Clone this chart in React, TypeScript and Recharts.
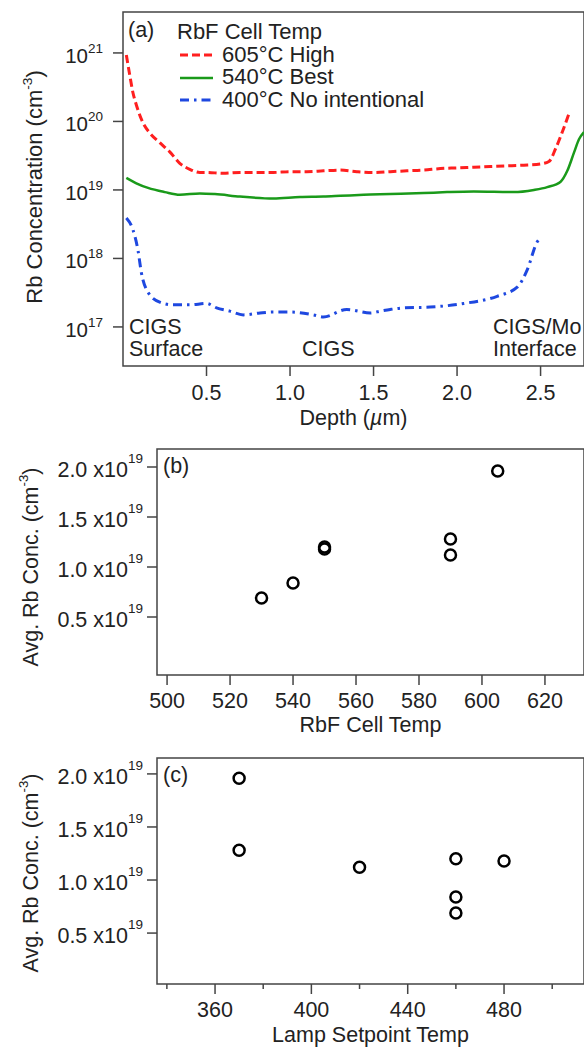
import React from 'react';
import { LineChart, Line, XAxis, YAxis, ScatterChart, Scatter, ReferenceArea, Legend } from 'recharts';

const FONT = "'Liberation Sans', Arial, Helvetica, sans-serif";
const INK = '#222';
const AXIS = '#444';

// (a) Rb depth profiles, depth in um, concentration in cm^-3
const depthHigh = [0.02, 0.04, 0.06, 0.08, 0.12, 0.16, 0.22, 0.28, 0.34, 0.4, 0.46, 0.5, 0.6, 0.7, 0.8, 0.9, 1.0, 1.1, 1.2, 1.3, 1.4, 1.5, 1.6, 1.7, 1.8, 1.9, 2.0, 2.1, 2.2, 2.3, 2.4, 2.5, 2.55, 2.59, 2.63, 2.67];
const rbHigh = [9.3e20, 4.8e20, 2.6e20, 1.74e20, 9.5e19, 6.8e19, 4.9e19, 3.6e19, 2.45e19, 2.0e19, 1.8e19, 1.8e19, 1.75e19, 1.8e19, 1.8e19, 1.8e19, 1.85e19, 1.85e19, 1.9e19, 1.95e19, 1.85e19, 1.8e19, 1.85e19, 1.9e19, 1.95e19, 2.05e19, 2.1e19, 2.15e19, 2.2e19, 2.25e19, 2.3e19, 2.4e19, 2.6e19, 4.0e19, 7.0e19, 1.3e20];

const depthBest = [0.02, 0.08, 0.15, 0.25, 0.34, 0.46, 0.55, 0.7, 0.9, 1.06, 1.2, 1.3, 1.44, 1.6, 1.8, 1.94, 2.1, 2.34, 2.46, 2.54, 2.62, 2.66, 2.7, 2.73, 2.76];
const rbBest = [1.5e19, 1.25e19, 1.07e19, 9.3e18, 8.5e18, 8.9e18, 8.7e18, 8.0e18, 7.5e18, 7.9e18, 8.0e18, 8.2e18, 8.5e18, 8.7e18, 9.0e18, 9.3e18, 9.5e18, 9.3e18, 1.0e19, 1.1e19, 1.32e19, 1.9e19, 3.5e19, 5.5e19, 7.0e19];

const depthNone = [0.02, 0.06, 0.09, 0.11, 0.15, 0.22, 0.3, 0.4, 0.5, 0.56, 0.64, 0.72, 0.82, 0.9, 1.0, 1.14, 1.2, 1.34, 1.48, 1.54, 1.6, 1.68, 1.84, 2.04, 2.24, 2.36, 2.42, 2.48, 2.5];
const rbNone = [3.9e18, 2.6e18, 1.3e18, 6.2e17, 3.2e17, 2.3e17, 2.1e17, 2.1e17, 2.2e17, 1.9e17, 1.7e17, 1.5e17, 1.6e17, 1.65e17, 1.65e17, 1.5e17, 1.4e17, 1.8e17, 1.6e17, 1.7e17, 1.8e17, 1.9e17, 1.95e17, 2.2e17, 2.8e17, 3.8e17, 6.8e17, 1.75e18, 2.0e18];

const profileNames = ['605°C High', '540°C Best', '400°C No intentional'];
const depthTicks = [0.5, 1.0, 1.5, 2.0, 2.5];
const concTicks = [1e17, 1e18, 1e19, 1e20, 1e21];

// (b), (c) average Rb concentration, units of 1e19 cm^-3
const avgConc = [1.96, 1.28, 1.12, 1.2, 1.18, 0.84, 0.69];
const rbfTemp = [605, 590, 590, 550, 550, 540, 530];
const lampTemp = [370, 370, 420, 460, 480, 460, 460];
const avgTicks = [0.5, 1.0, 1.5, 2.0];
const rbfTicks = [500, 520, 540, 560, 580, 600, 620];
const lampTicks = [340, 360, 380, 400, 420, 440, 460, 480, 500];
const lampLabelled = [360, 400, 440, 480];

const TICK_FS = 21.5;
const TEXT_FS = 21.5;

const styles = [
  { color: '#ff1f1f', width: 3, dash: '8 4' },
  { color: '#1a9a1a', width: 2.5, dash: undefined as string | undefined },
  { color: '#1e48e0', width: 3, dash: '9 5 2.5 5' },
];

const profiles = [
  { depth: depthHigh, conc: rbHigh },
  { depth: depthBest, conc: rbBest },
  { depth: depthNone, conc: rbNone },
].map((s, k) => ({
  name: profileNames[k],
  rows: s.depth.map((d, i) => ({ depth: d, conc: s.conc[i] })),
  ...styles[k],
}));

const scatterB = rbfTemp.map((t, i) => ({ t, c: avgConc[i] }));
const scatterC = lampTemp.map((t, i) => ({ t, c: avgConc[i] }));

const domA: [number, number] = [0, 2.76];
const domAy: [number, number] = [2.69e16, 3.96e21];
const domB: [number, number] = [496.8, 632.4];
const domBy: [number, number] = [-0.08, 2.18];
const domC: [number, number] = [335.9, 513.2];
const domCy: [number, number] = [0.02, 2.15];

function LogTick({ x, y, payload }: any) {
  const exp = Math.round(Math.log10(payload.value));
  return (
    <g>
      <line x1={x - 10} x2={x} y1={y} y2={y} stroke={AXIS} strokeWidth={1.5} />
      <text x={x - 20} y={y + 10} textAnchor="end" fontSize={20.5} fill={INK} fontFamily={FONT}>
        10<tspan dy={-10} fontSize={13.5}>{exp}</tspan>
      </text>
    </g>
  );
}

function SciTick({ x, y, payload }: any) {
  return (
    <g>
      <line x1={x - 10} x2={x} y1={y} y2={y} stroke={AXIS} strokeWidth={1.5} />
      <text x={x - 14} y={y + 10} textAnchor="end" fontSize={TICK_FS} fill={INK} fontFamily={FONT}>
        {payload.value.toFixed(1)} x10<tspan dy={-14} fontSize={13.5}>19</tspan>
      </text>
    </g>
  );
}

const makeXTick = (fmt: (v: number) => string, textDy: number, labelled?: number[]) =>
  function XTick({ x, y, payload }: any) {
    const major = !labelled || labelled.includes(payload.value);
    return (
      <g>
        <line x1={x} x2={x} y1={y} y2={y + (major ? 10 : 5)} stroke={AXIS} strokeWidth={1.5} />
        {major && (
          <text x={x} y={y + textDy} textAnchor="middle" fontSize={TICK_FS} fill={INK} fontFamily={FONT}>
            {fmt(payload.value)}
          </text>
        )}
      </g>
    );
  };

const bottomTitle = (parts: React.ReactNode, dy: number) =>
  ({ viewBox }: any) => (
    <text x={viewBox.x + viewBox.width / 2} y={viewBox.y + dy} textAnchor="middle" fontSize={TEXT_FS} fill={INK} fontFamily={FONT}>
      {parts}
    </text>
  );

const sideTitle = (text: string, cx: number, cy: number, size: number) =>
  () => (
    <text x={cx} y={cy} transform={`rotate(-90, ${cx}, ${cy})`} textAnchor="middle" fontSize={size} fill={INK} fontFamily={FONT}>
      {text}<tspan dy={-size * 0.45} fontSize={size * 0.62}>-3</tspan><tspan dy={size * 0.45}>)</tspan>
    </text>
  );

function ProfileLegend() {
  return (
    <div style={{ fontFamily: FONT, fontSize: 22, color: INK, lineHeight: '22.7px', whiteSpace: 'nowrap' }}>
      <div style={{ paddingLeft: 2 }}>RbF Cell Temp</div>
      {profiles.map((p) => (
        <div key={p.name} style={{ display: 'flex', alignItems: 'center', height: 22.7 }}>
          <svg width={47} height={22} style={{ display: 'block' }}>
            <line x1={5} x2={38} y1={11} y2={11} stroke={p.color} strokeWidth={p.width} strokeDasharray={p.dash} />
          </svg>
          <span>{p.name}</span>
        </div>
      ))}
    </div>
  );
}

const Ring = ({ cx, cy }: any) => <circle cx={cx} cy={cy} r={5.5} fill="none" stroke="#000" strokeWidth={2.5} />;

const note = (left: number, top: number, lines: string[]) => (
  <div style={{ position: 'absolute', left, top, fontFamily: FONT, fontSize: TEXT_FS, lineHeight: '22px', color: INK, whiteSpace: 'nowrap' }}>
    {lines.map((l) => <div key={l}>{l}</div>)}
  </div>
);

export default function App() {
  return (
    <div style={{ position: 'absolute', left: 0, top: 0, width: 584, height: 1049, overflow: 'hidden', background: '#fff' }}>
      <div style={{ position: 'absolute', left: 0, top: 0 }}>
        <LineChart width={584} height={440} margin={{ top: 12, right: 0, bottom: 0, left: 0 }}>
          <XAxis
            type="number"
            dataKey="depth"
            domain={domA}
            ticks={depthTicks}
            allowDataOverflow
            axisLine={false}
            tickLine={false}
            tickSize={0}
            tickMargin={0}
            height={74}
            tick={makeXTick((v) => v.toFixed(1), 34)}
            label={bottomTitle(<>Depth (<tspan fontStyle="italic">µ</tspan>m)</>, 59)}
          />
          <YAxis
            type="number"
            scale="log"
            domain={domAy}
            ticks={concTicks}
            allowDataOverflow
            axisLine={false}
            tickLine={false}
            tickSize={0}
            tickMargin={0}
            width={123}
            tick={<LogTick />}
            label={sideTitle('Rb Concentration (cm', 42, 187, 22)}
          />
          <ReferenceArea x1={domA[0]} x2={domA[1]} y1={domAy[0]} y2={domAy[1]} fill="none" stroke={AXIS} strokeWidth={1.5} fillOpacity={0} />
          {profiles.map((p) => (
            <Line
              key={p.name}
              data={p.rows}
              dataKey="conc"
              name={p.name}
              type="monotone"
              stroke={p.color}
              strokeWidth={p.width}
              strokeDasharray={p.dash}
              dot={false}
              isAnimationActive={false}
            />
          ))}
          <Legend
            layout="vertical"
            align="center"
            verticalAlign="middle"
            content={<ProfileLegend />}
            wrapperStyle={{ left: 175, top: 21, width: 270 }}
          />
        </LineChart>
        {note(128, 19, ['(a)'])}
        {note(129, 316, ['CIGS', 'Surface'])}
        {note(302, 338, ['CIGS'])}
        {note(493, 316, ['CIGS/Mo', 'Interface'])}
      </div>

      <div style={{ position: 'absolute', left: 0, top: 420 }}>
        <ScatterChart width={584} height={330} margin={{ top: 29, right: 0, bottom: 0, left: 0 }}>
          <XAxis
            type="number"
            dataKey="t"
            domain={domB}
            ticks={rbfTicks}
            allowDataOverflow
            axisLine={false}
            tickLine={false}
            tickSize={0}
            tickMargin={0}
            height={75}
            tick={makeXTick((v) => String(v), 33)}
            label={bottomTitle('RbF Cell Temp', 57)}
          />
          <YAxis
            type="number"
            dataKey="c"
            domain={domBy}
            ticks={avgTicks}
            allowDataOverflow
            axisLine={false}
            tickLine={false}
            tickSize={0}
            tickMargin={0}
            width={157}
            tick={<SciTick />}
            label={sideTitle('Avg. Rb Conc. (cm', 38, 147, 21.5)}
          />
          <ReferenceArea x1={domB[0]} x2={domB[1]} y1={domBy[0]} y2={domBy[1]} fill="none" stroke={AXIS} strokeWidth={1.5} fillOpacity={0} />
          <Scatter data={scatterB} shape={<Ring />} isAnimationActive={false} />
        </ScatterChart>
        {note(163, 35, ['(b)'])}
      </div>

      <div style={{ position: 'absolute', left: 0, top: 740 }}>
        <ScatterChart width={584} height={309} margin={{ top: 18, right: 0, bottom: 0, left: 0 }}>
          <XAxis
            type="number"
            dataKey="t"
            domain={domC}
            ticks={lampTicks}
            allowDataOverflow
            axisLine={false}
            tickLine={false}
            tickSize={0}
            tickMargin={0}
            height={65}
            tick={makeXTick((v) => String(v), 33, lampLabelled)}
            label={bottomTitle('Lamp Setpoint Temp', 58)}
          />
          <YAxis
            type="number"
            dataKey="c"
            domain={domCy}
            ticks={avgTicks}
            allowDataOverflow
            axisLine={false}
            tickLine={false}
            tickSize={0}
            tickMargin={0}
            width={157}
            tick={<SciTick />}
            label={sideTitle('Avg. Rb Conc. (cm', 38, 133, 21.5)}
          />
          <ReferenceArea x1={domC[0]} x2={domC[1]} y1={domCy[0]} y2={domCy[1]} fill="none" stroke={AXIS} strokeWidth={1.5} fillOpacity={0} />
          <Scatter data={scatterC} shape={<Ring />} isAnimationActive={false} />
        </ScatterChart>
        {note(163, 24, ['(c)'])}
      </div>
    </div>
  );
}
